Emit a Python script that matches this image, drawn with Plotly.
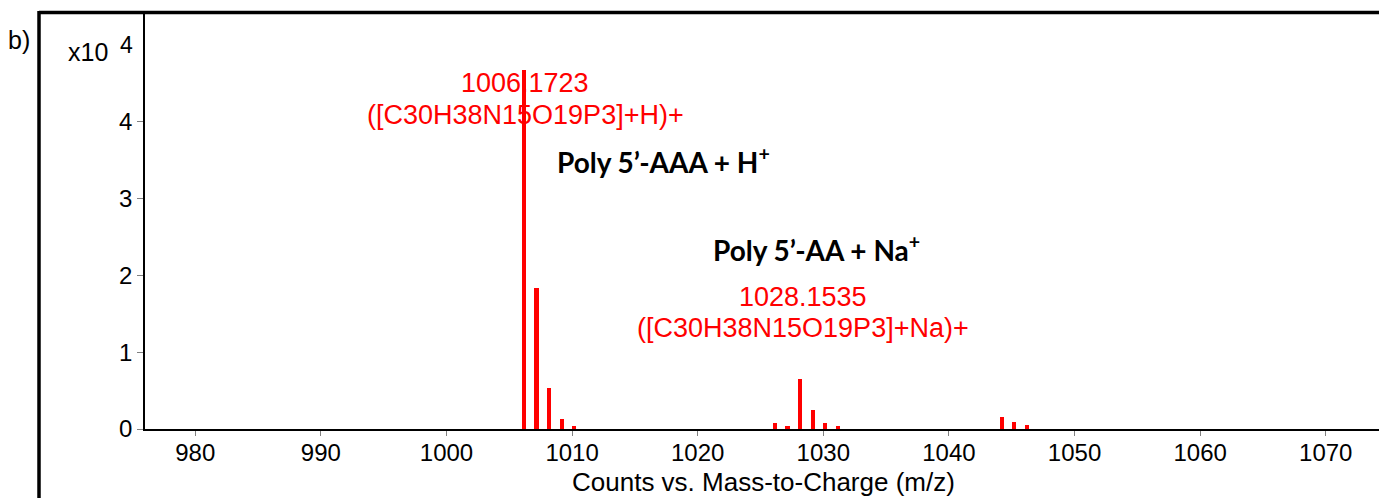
import plotly.graph_objects as go

# Data (m/z, intensity in counts)
mz = [1006.17, 1007.17, 1008.17, 1009.17, 1010.18,
      1026.15, 1027.15, 1028.15, 1029.16, 1030.16, 1031.16,
      1044.2, 1045.2, 1046.2]
intensity = [46800, 18400, 5300, 1300, 400,
             800, 400, 6500, 2500, 800, 400,
             1500, 900, 500]

x_ticks = [980, 990, 1000, 1010, 1020, 1030, 1040, 1050, 1060, 1070]
y_ticks = [0, 10000, 20000, 30000, 40000]
y_ticktext = ["0", "1", "2", "3", "4"]

W, H = 1379, 498
ML, MR, MT, MB = 145, 0, 13, 69
PW = W - ML - MR
PH = H - MT - MB

def px(xp):
    return (xp - ML) / PW

def py(yp):
    return (H - MB - yp) / PH

fig = go.Figure()
fig.add_trace(go.Bar(x=mz, y=intensity, width=0.33,
                     marker=dict(color="#ff0000", line=dict(width=0)),
                     showlegend=False))

FONT = "Liberation Sans, Arial, sans-serif"

fig.update_layout(
    width=W, height=H,
    margin=dict(l=ML, r=MR, t=MT, b=MB, pad=0),
    paper_bgcolor="white", plot_bgcolor="white",
    font=dict(family=FONT, color="black"),
    xaxis=dict(range=[976.0, 1074.24], tickvals=x_ticks,
               ticks="outside", ticklen=5, tickwidth=1, tickcolor="#808080",
               ticklabelstandoff=-4,
               showline=True, linecolor="black", linewidth=2,
               showgrid=False, zeroline=False,
               tickfont=dict(size=24, family=FONT, color="black")),
    yaxis=dict(range=[0, 54200], tickvals=y_ticks, ticktext=y_ticktext,
               ticks="outside", ticklen=6, tickwidth=1, tickcolor="#808080",
               showline=True, linecolor="black", linewidth=1.5,
               showgrid=False, zeroline=False,
               tickfont=dict(size=24, family=FONT, color="black")),
    bargap=0,
)

# x-axis title
fig.add_annotation(text="Counts vs. Mass-to-Charge (m/z)", x=px(763), y=py(499),
                   xref="paper", yref="paper", showarrow=False,
                   xanchor="center", yanchor="bottom",
                   font=dict(size=26, color="black", family=FONT))

red = "#ff0000"
ann = [
    dict(text="1006.1723", x=1006.27, y=py(83)),
    dict(text="([C30H38N15O19P3]+H)+", x=1006.27, y=py(115)),
    dict(text="1028.1535", x=1028.4, y=py(297)),
    dict(text="([C30H38N15O19P3]+Na)+", x=1028.4, y=py(328)),
]
for a in ann:
    fig.add_annotation(text=a["text"], x=a["x"], y=a["y"], xref="x", yref="paper",
                       showarrow=False, xanchor="center", yanchor="middle",
                       font=dict(size=27, color=red, family=FONT))

BOLD = "Lato, Carlito, Calibri, sans-serif"
fig.add_annotation(text="<b>Poly 5’-AAA + H<sup>+</sup></b>", x=px(555), y=py(160),
                   xref="paper", yref="paper", showarrow=False,
                   xanchor="left", yanchor="middle",
                   font=dict(size=28, color="black", family=BOLD))
fig.add_annotation(text="<b>Poly 5’-AA + Na<sup>+</sup></b>", x=px(711), y=py(248),
                   xref="paper", yref="paper", showarrow=False,
                   xanchor="left", yanchor="middle",
                   font=dict(size=28, color="black", family=BOLD))

# x10^4 multiplier and panel label
fig.add_annotation(text="x10", x=px(66), y=py(52), xref="paper", yref="paper",
                   showarrow=False, xanchor="left", yanchor="middle",
                   font=dict(size=25, color="black", family=FONT))
fig.add_annotation(text="4", x=px(118), y=py(45), xref="paper", yref="paper",
                   showarrow=False, xanchor="left", yanchor="middle",
                   font=dict(size=23, color="black", family=FONT))
fig.add_annotation(text="b)", x=px(6), y=py(40), xref="paper", yref="paper",
                   showarrow=False, xanchor="left", yanchor="middle",
                   font=dict(size=25, color="black", family=FONT))

# outer frame (thick black lines at left and top)
fig.add_shape(type="line", xref="paper", yref="paper",
              x0=px(39), x1=px(39), y0=py(505), y1=py(11),
              line=dict(color="black", width=3.5))
fig.add_shape(type="line", xref="paper", yref="paper",
              x0=px(39), x1=px(1385), y0=py(12.5), y1=py(12.5),
              line=dict(color="black", width=3.5))

fig.write_html("out.html")
